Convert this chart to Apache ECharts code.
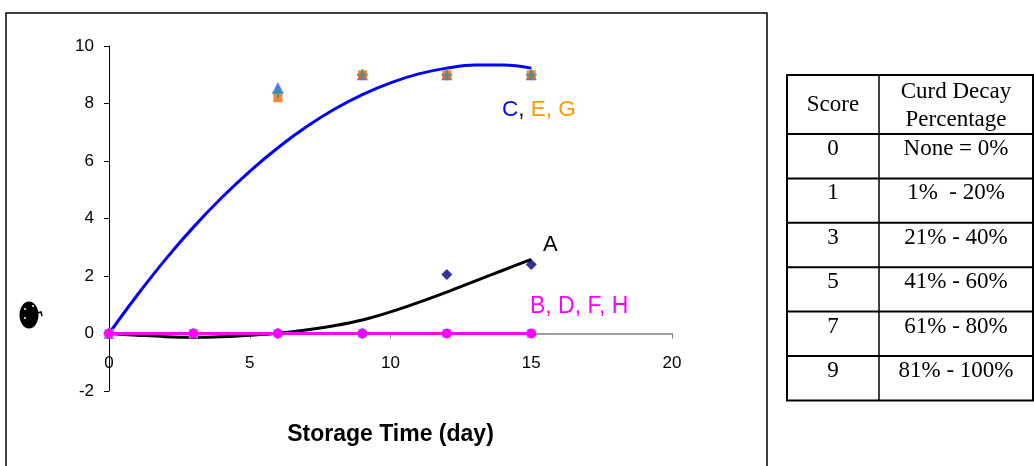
<!DOCTYPE html>
<html>
<head>
<meta charset="utf-8">
<script src="https://cdn.jsdelivr.net/npm/echarts@6/dist/echarts.min.js"></script>
<style>
html, body { margin: 0; padding: 0; background: #ffffff; }
#chart { width: 1034px; height: 466px; }
</style>
</head>
<body>
<div id="chart"></div>
<script>
// Sampling days and curd decay scores per treatment
const days = [0, 3, 6, 9, 12, 15];
const scoreA = [0, 0, 0, 0, 2.05, 2.4];
const scoreC = [0, null, 8.56, 9, 9, 9];
const scoreE = [0, 0, 8.2, 9, 9, 9];
const scoreG = [0, null, 8.37, 9, 9, 9];
const scoreB = [0, 0, 0, 0, 0, 0];
const scoreDFH = [0, 0, 0, 0, 0, 0];

// Polynomial trend curves, sampled daily
const trendDays = [0, 1, 2, 3, 4, 5, 6, 7, 8, 9, 10, 11, 12, 13, 14, 15];
const trendA = [0, -0.06, -0.11, -0.13, -0.11, -0.06, 0.01, 0.12, 0.27, 0.47, 0.75, 1.08, 1.44, 1.82, 2.2, 2.58];
const trendC = [0, 1.33, 2.57, 3.7, 4.72, 5.64, 6.46, 7.18, 7.8, 8.31, 8.72, 9.03, 9.23, 9.34, 9.34, 9.23];

// Axis ranges
const xRange = { min: 0, max: 20, step: 5 };
const yRange = { min: -2, max: 10, step: 2 };

// Score legend table
const tableHeader = ['Score', 'Curd Decay\nPercentage'];
const tableScores = ['0', '1', '3', '5', '7', '9'];
const tableRanges = ['None = 0%', '1%  - 20%', '21% - 40%', '41% - 60%', '61% - 80%', '81% - 100%'];

function pairs(xs, ys) {
  return xs.map((x, i) => [x, ys[i]]).filter(p => p[1] !== null);
}

const plusPath = 'path://M4,0H6V4H10V6H6V10H4V6H0V4H4Z';
const chart = echarts.init(document.getElementById('chart'), null, { renderer: 'canvas' });

// Table graphics
const tbl = { x0: 787, x1: 1033, xm: 879, y0: 75, header: 59, row: 44.4 };
const tableGraphics = [];
const tFont = '23px "Liberation Serif", "Times New Roman", serif';
const totalH = tbl.header + tbl.row * tableScores.length;
tableGraphics.push({
  type: 'rect', shape: { x: tbl.x0, y: tbl.y0, width: tbl.x1 - tbl.x0, height: totalH },
  style: { fill: 'none', stroke: '#000', lineWidth: 2 }
});
tableGraphics.push({
  type: 'line', shape: { x1: tbl.xm, y1: tbl.y0, x2: tbl.xm, y2: tbl.y0 + totalH },
  style: { stroke: '#000', lineWidth: 1.5 }
});
const c1 = (tbl.x0 + tbl.xm) / 2, c2 = (tbl.xm + tbl.x1) / 2;
tableGraphics.push({
  type: 'text', x: c1, y: tbl.y0 + 30,
  style: { text: tableHeader[0], font: tFont, fill: '#000', align: 'center', verticalAlign: 'middle' }
});
tableGraphics.push({
  type: 'text', x: c2, y: tbl.y0 + 31,
  style: { text: tableHeader[1], font: tFont, fill: '#000', align: 'center', verticalAlign: 'middle', lineHeight: 28 }
});
tableScores.forEach((s, i) => {
  const top = tbl.y0 + tbl.header + tbl.row * i;
  tableGraphics.push({
    type: 'line', shape: { x1: tbl.x0, y1: top, x2: tbl.x1, y2: top },
    style: { stroke: '#000', lineWidth: 2 }
  });
  tableGraphics.push({
    type: 'text', x: c1, y: top + 15,
    style: { text: s, font: tFont, fill: '#000', align: 'center', verticalAlign: 'middle' }
  });
  tableGraphics.push({
    type: 'text', x: c2, y: top + 15,
    style: { text: tableRanges[i], font: tFont, fill: '#000', align: 'center', verticalAlign: 'middle' }
  });
});

const labelFont = '"Liberation Sans", Arial, sans-serif';

const option = {
  backgroundColor: '#ffffff',
  animation: false,
  grid: { left: 109, right: 362, top: 46, bottom: 75, containLabel: false, outerBoundsMode: 'none' },
  xAxis: {
    type: 'value', min: xRange.min, max: xRange.max, interval: xRange.step,
    name: 'Storage Time (day)', nameLocation: 'middle', nameGap: 32,
    nameTextStyle: { fontFamily: labelFont, fontSize: 23, fontWeight: 'bold', color: '#000' },
    axisLine: { onZero: true, lineStyle: { color: '#808080', width: 1.5 } },
    axisTick: { show: true, length: 5, lineStyle: { color: '#808080' } },
    // tick labels sit just under the zero line
    axisLabel: { color: '#000', fontFamily: labelFont, fontSize: 17, margin: -36 },
    splitLine: { show: false }
  },
  yAxis: {
    type: 'value', min: yRange.min, max: yRange.max, interval: yRange.step,
    axisLine: { show: true, onZero: false, lineStyle: { color: '#000', width: 1 } },
    axisTick: { show: true, length: 5, lineStyle: { color: '#000' } },
    axisLabel: { color: '#000', fontFamily: labelFont, fontSize: 17, margin: 15 },
    splitLine: { show: false }
  },
  series: [
    { name: 'C trend', type: 'line', data: pairs(trendDays, trendC), smooth: 0.4, showSymbol: false,
      lineStyle: { color: '#0000ff', width: 3 }, z: 2 },
    { name: 'A trend', type: 'line', data: pairs(trendDays, trendA), smooth: 0.4, showSymbol: false,
      lineStyle: { color: '#000000', width: 3 }, z: 2 },
    { name: 'A', type: 'scatter', data: pairs(days, scoreA), symbol: 'diamond', symbolSize: 11,
      itemStyle: { color: '#000080' }, z: 3 },
    { name: 'C', type: 'scatter', data: pairs(days, scoreC), symbol: 'triangle', symbolSize: 11,
      itemStyle: { color: '#3355ff' }, z: 3 },
    { name: 'E', type: 'scatter', data: pairs(days, scoreE), symbol: 'rect', symbolSize: 9,
      itemStyle: { color: '#ff6600' }, z: 4 },
    { name: 'G', type: 'scatter', data: pairs(days, scoreG), symbol: plusPath, symbolSize: 11,
      itemStyle: { color: '#2a9a9a' }, z: 5 },
    { name: 'B', type: 'scatter', data: pairs(days, scoreB), symbol: plusPath, symbolRotate: 45, symbolSize: 12,
      itemStyle: { color: '#33ffff' }, z: 5 },
    { name: 'D, F, H', type: 'line', data: pairs(days, scoreDFH), symbol: 'circle', symbolSize: 10,
      lineStyle: { color: '#ff00ff', width: 3 }, itemStyle: { color: '#ff00ff' }, z: 6 }
  ],
  graphic: [
    { type: 'rect', shape: { x: 6, y: 13, width: 761, height: 470 },
      style: { fill: 'none', stroke: '#000', lineWidth: 1.5 }, silent: true },
    // garbled vertical axis caption
    { type: 'group', children: [
      { type: 'ellipse', shape: { cx: 29, cy: 315, rx: 9.5, ry: 13.5 }, style: { fill: '#000' } },
      { type: 'circle', shape: { cx: 25, cy: 309, r: 1 }, style: { fill: '#fff' } },
      { type: 'circle', shape: { cx: 25, cy: 318, r: 1 }, style: { fill: '#fff' } },
      { type: 'circle', shape: { cx: 33, cy: 306, r: 1 }, style: { fill: '#fff' } },
      { type: 'polyline', shape: { points: [[37, 313], [41, 312], [42, 316]] }, style: { stroke: '#000', lineWidth: 1.5, fill: 'none' } }
    ]},
    { type: 'text', left: 502, top: 98,
      style: { rich: { c: { fill: '#0000ff', font: '22.5px ' + labelFont }, k: { fill: '#000', font: '22.5px ' + labelFont },
        e: { fill: '#ff9900', font: '22.5px ' + labelFont } }, text: '{c|C}{k|, }{e|E, G}' } },
    { type: 'text', left: 543, top: 234, style: { text: 'A', fill: '#000', font: '22px ' + labelFont } },
    { type: 'text', left: 530, top: 295, style: { text: 'B, D, F, H', fill: '#ff00ff', font: '23px ' + labelFont } }
  ].concat(tableGraphics)
};

chart.setOption(option);
</script>
</body>
</html>
